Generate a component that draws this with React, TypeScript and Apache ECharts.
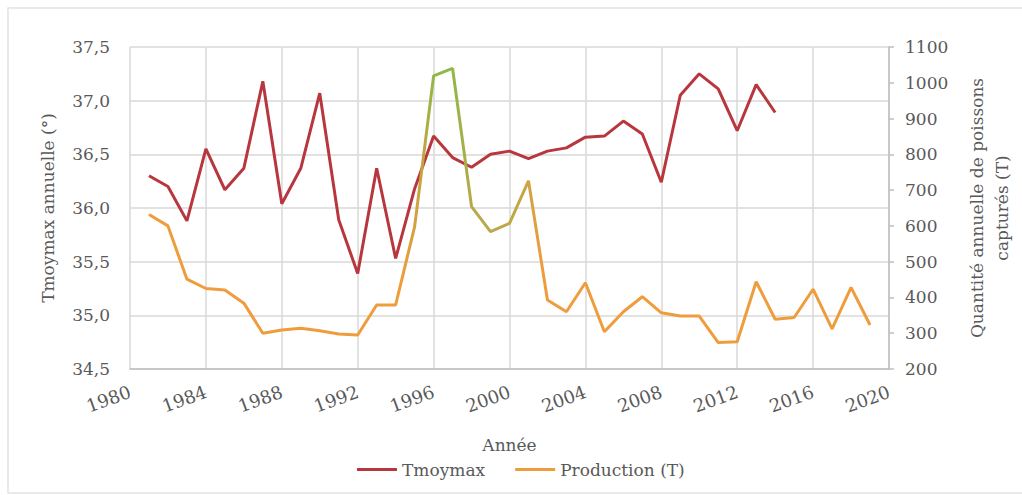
import React, { useEffect, useRef } from "react";
import * as echarts from "echarts";

const years = [1981,1982,1983,1984,1985,1986,1987,1988,1989,1990,1991,1992,1993,1994,1995,1996,1997,1998,1999,2000,2001,2002,2003,2004,2005,2006,2007,2008,2009,2010,2011,2012,2013,2014,2015,2016,2017,2018,2019];
const tmoymax = [36.30,36.20,35.88,36.55,36.17,36.37,37.18,36.04,36.37,37.07,35.89,35.39,36.37,35.53,36.18,36.67,36.47,36.38,36.50,36.53,36.46,36.53,36.56,36.66,36.67,36.81,36.69,36.24,37.05,37.25,37.11,36.72,37.15,36.89];
const production = [632,600,451,425,421,384,300,309,314,307,298,295,379,379,598,1019,1040,654,584,607,726,393,360,441,304,360,402,357,348,348,274,276,444,339,344,423,312,428,323];
const leftTicks = { min: 34.5, max: 37.5, interval: 0.5 };
const rightTicks = { min: 200, max: 1100, interval: 100 };
const xTicks = { min: 1980, max: 2020, interval: 4 };

const FONT = "DejaVu Serif";
const GREY = "#595959";
const RED = "#b8373e";
const ORANGE = "#ef9c3c";

export default function App() {
  const ref = useRef<HTMLDivElement>(null);
  useEffect(() => {
    const chart = echarts.init(ref.current!, null, { renderer: "svg" });
    const gradient = new echarts.graphic.LinearGradient(0, 0, 1, 0, [
      { offset: 0, color: ORANGE },
      { offset: 0.35, color: ORANGE },
      { offset: 0.38, color: "#c2a541" },
      { offset: 0.395, color: "#8fb849" },
      { offset: 0.42, color: "#8fb849" },
      { offset: 0.447, color: "#b4aa4a" },
      { offset: 0.52, color: "#c6a646" },
      { offset: 0.545, color: ORANGE },
      { offset: 1, color: ORANGE },
    ]);
    chart.setOption({
      animation: false,
      textStyle: { fontFamily: FONT },
      grid: { left: 130, right: 125, top: 47, bottom: 126 },
      graphic: [
        {
          type: "rect",
          shape: { x: 8, y: 8, width: 1030, height: 485 },
          style: { fill: "none", stroke: "#e3e3e3", lineWidth: 1.5 },
          silent: true,
        },
      ],
      legend: {
        left: 352,
        top: 456,
        itemGap: 30,
        itemWidth: 40,
        itemHeight: 3,
        icon: "rect",
        textStyle: { color: GREY, fontSize: 17, fontFamily: FONT },
        data: [
          { name: "Tmoymax", itemStyle: { color: RED } },
          { name: "Production (T)", itemStyle: { color: ORANGE } },
        ],
      },
      xAxis: {
        type: "value",
        min: xTicks.min,
        max: xTicks.max,
        interval: xTicks.interval,
        name: "Année",
        nameLocation: "middle",
        nameGap: 67,
        nameTextStyle: { color: GREY, fontSize: 17, fontFamily: FONT },
        axisLine: { show: true, lineStyle: { color: "#bfbfbf", width: 1.5 } },
        axisTick: { show: false },
        splitLine: { show: true, lineStyle: { color: "#d9d9d9", width: 1.5 } },
        axisLabel: {
          rotate: 20,
          margin: 22,
          color: GREY,
          fontSize: 18,
          fontFamily: FONT,
          formatter: (v: number) => String(v),
        },
      },
      yAxis: [
        {
          type: "value",
          position: "left",
          min: leftTicks.min,
          max: leftTicks.max,
          interval: leftTicks.interval,
          name: "Tmoymax annuelle (°)",
          nameLocation: "middle",
          nameRotate: 90,
          nameGap: 74,
          nameTextStyle: { color: GREY, fontSize: 17, fontFamily: FONT },
          axisLine: { show: false },
          axisTick: { show: false },
          splitLine: { show: true, lineStyle: { color: "#d9d9d9", width: 1.5 } },
          axisLabel: {
            margin: 20,
            color: GREY,
            fontSize: 17,
            fontFamily: FONT,
            formatter: (v: number) => v.toFixed(1).replace(".", ","),
          },
        },
        {
          type: "value",
          position: "right",
          min: rightTicks.min,
          max: rightTicks.max,
          interval: rightTicks.interval,
          name: "Quantité annuelle de poissons\ncapturés (T)",
          nameLocation: "middle",
          nameRotate: 90,
          nameGap: 75,
          nameTextStyle: { color: GREY, fontSize: 17, fontFamily: FONT, lineHeight: 25 },
          axisLine: { show: true, lineStyle: { color: "#bfbfbf", width: 1.5 } },
          axisTick: { show: true, length: 5, inside: false, lineStyle: { color: "#bfbfbf", width: 1.5 } },
          splitLine: { show: false },
          axisLabel: {
            margin: 16,
            color: GREY,
            fontSize: 17,
            fontFamily: FONT,
            formatter: (v: number) => String(v),
          },
        },
      ],
      series: [
        {
          name: "Tmoymax",
          type: "line",
          yAxisIndex: 0,
          showSymbol: false,
          symbol: "none",
          itemStyle: { color: RED },
          lineStyle: { color: RED, width: 3 },
          data: tmoymax.map((v, i) => [years[i], v]),
        },
        {
          name: "Production (T)",
          type: "line",
          yAxisIndex: 1,
          showSymbol: false,
          symbol: "none",
          itemStyle: { color: ORANGE },
          lineStyle: { color: gradient, width: 3 },
          data: production.map((v, i) => [years[i], v]),
        },
      ],
    });
    return () => chart.dispose();
  }, []);
  return (
    <div
      ref={ref}
      style={{ position: "fixed", left: 0, top: 0, width: 1022, height: 495, background: "#fff" }}
    />
  );
}
